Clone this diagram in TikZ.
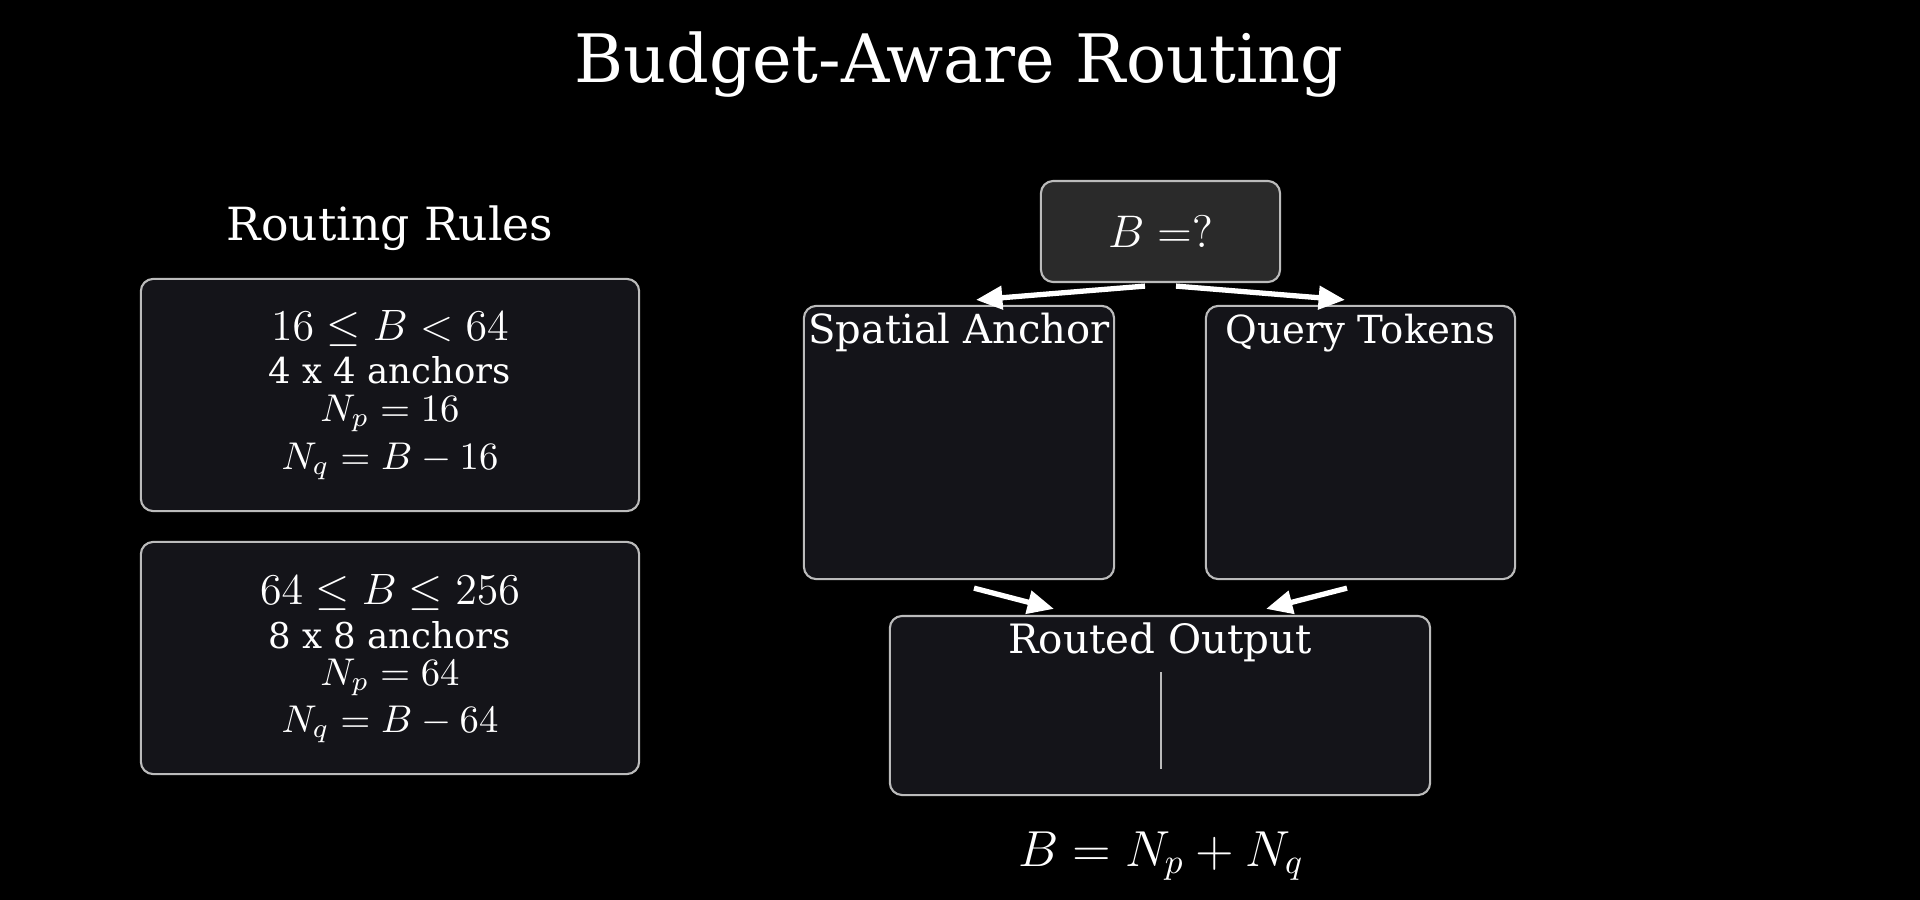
\RequirePackage{fix-cm}
\documentclass[tikz,border=0pt]{standalone}
\usepackage{amsmath}
\usepackage{fontspec}
\setmainfont{DejaVu Serif}
\usetikzlibrary{arrows.meta}
\definecolor{panelbg}{HTML}{141419}
\definecolor{askbg}{HTML}{2A2A2A}
\definecolor{rim}{HTML}{BBBBBB}
\tikzset{
  panel/.style={draw=rim, line width=0.6pt, fill=panelbg, rounded corners=3.5pt, inner sep=0pt},
  label/.style={text=white, anchor=base, inner sep=0pt},
  flow/.style={white, line width=1.5pt, -{Triangle[length=7.5pt,width=6.5pt]}},
  cut/.style={rim, line width=0.4pt}
}

\begin{document}
\begin{tikzpicture}[x=0.01cm, y=-0.01cm]
		% background and frame
		\fill[black] (0,0) rectangle (1920,900);
		\useasboundingbox (0,0) rectangle (1920,900);
		\node[label, font=\fontsize{19}{23}\selectfont] (title) at (959,83) {Budget-Aware Routing};
		% left column: the two rules
		\node[label, font=\fontsize{13}{16}\selectfont] (rulehead) at (390,240) {Routing Rules};
		\node[panel, minimum width=4.98cm, minimum height=2.32cm] (rule1) at (390,395) {};
		\node[label, font=\fontsize{12.5}{15}\selectfont] (r1range) at (390,340) {$16 \le B < 64$};
		\node[label, font=\fontsize{10.1}{12}\selectfont] (r1grid) at (390,383) {4 x 4 anchors};
		\node[label, font=\fontsize{11}{13}\selectfont] (r1np) at (390,421) {$N_p = 16$};
		\node[label, font=\fontsize{11}{13}\selectfont] (r1nq) at (390,469) {$N_q = B - 16$};
		\node[panel, minimum width=4.98cm, minimum height=2.32cm] (rule2) at (390,658) {};
		\node[label, font=\fontsize{12.5}{15}\selectfont] (r2range) at (390,604) {$64 \le B \le 256$};
		\node[label, font=\fontsize{10.1}{12}\selectfont] (r2grid) at (390,648) {8 x 8 anchors};
		\node[label, font=\fontsize{11}{13}\selectfont] (r2np) at (390,685) {$N_p = 64$};
		\node[label, font=\fontsize{11}{13}\selectfont] (r2nq) at (390,732) {$N_q = B - 64$};
		% right column: the routing
		\node[panel, fill=askbg, minimum width=2.39cm, minimum height=1.01cm, text=white,
		      font=\fontsize{13}{16}\selectfont] (ask) at (1160.5,231.5) {$B =?$};
		\node[panel, minimum width=3.10cm, minimum height=2.73cm] (spatial) at (959,442.5) {};
		\node[label, font=\fontsize{11.4}{14}\selectfont] (spatialhead) at (959,343) {Spatial Anchor};
		\node[panel, minimum width=3.09cm, minimum height=2.73cm] (query) at (1360.5,442.5) {};
		\node[label, font=\fontsize{11}{13}\selectfont] (queryhead) at (1360.5,343) {Query Tokens};
		\node[panel, minimum width=5.40cm, minimum height=1.79cm] (routed) at (1160,705.5) {};
		\node[label, font=\fontsize{11.5}{14}\selectfont] (routedhead) at (1160,653) {Routed Output};
		\coordinate (cutT) at (1161,672);
		\coordinate (cutB) at (1161,769);
		\draw[cut] (cutT) -- (cutB);
		\node[label, font=\fontsize{14.4}{17}\selectfont] (sum) at (1161,866) {$B = N_p + N_q$};
		% arrows
		\draw[flow] ([xshift=-0.155cm, yshift=-0.03cm]ask.south) -- ([xshift=0.17cm, yshift=0.05cm]spatial.north);
		\draw[flow] ([xshift=0.155cm, yshift=-0.03cm]ask.south) -- ([xshift=-0.155cm, yshift=0.05cm]query.north);
		\draw[flow] ([xshift=0.15cm, yshift=-0.08cm]spatial.south) -- ([xshift=-1.06cm, yshift=0.06cm]routed.north);
		\draw[flow] ([xshift=-0.135cm, yshift=-0.08cm]query.south) -- ([xshift=1.06cm, yshift=0.06cm]routed.north);
	\end{tikzpicture}
\end{document}
